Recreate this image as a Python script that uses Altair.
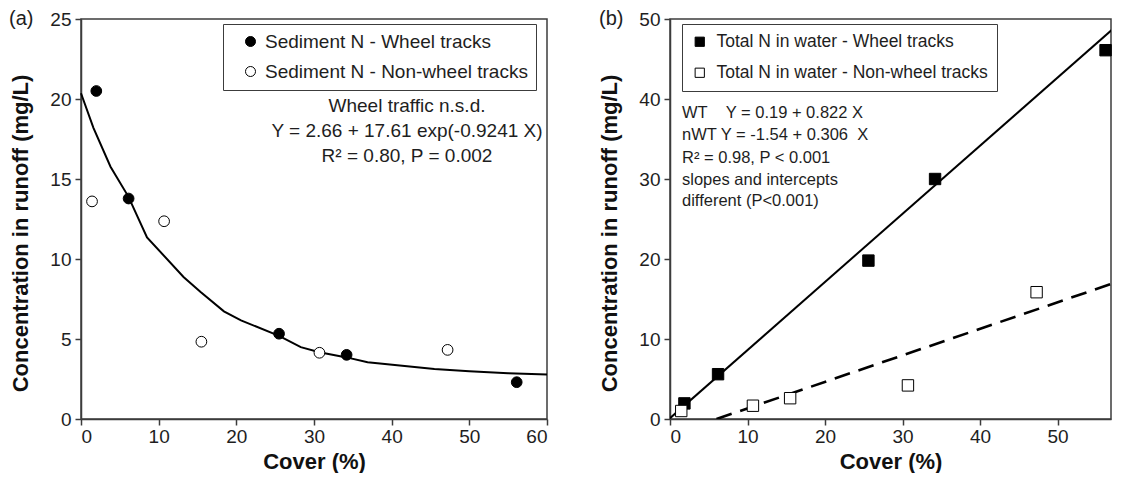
import altair as alt
import pandas as pd

FONT = "Liberation Sans"
INK = "#1e1e1e"
FRAME = "#3c3c3c"

# ---------------- Panel (a): sediment N ----------------
a_series = ["Sediment N - Wheel tracks", "Sediment N - Non-wheel tracks"]
a_wt_x = [1.97, 6.13, 25.5, 34.2, 56.1]
a_wt_y = [20.5, 13.78, 5.33, 4.01, 2.3]
a_nwt_x = [1.42, 10.7, 15.5, 30.7, 47.2]
a_nwt_y = [13.6, 12.36, 4.83, 4.14, 4.32]
a_fit_x = [0, 1.6, 3.8, 6.1, 8.5, 13.2, 15.4, 18.4, 20.6, 25.5, 28.3, 30.7, 34.2, 36.9, 45.5, 50, 55, 60]
a_fit_y = [20.36, 18.2, 15.77, 13.9, 11.35, 8.88, 7.94, 6.73, 6.16, 5.2, 4.49, 4.17, 3.85, 3.55, 3.13, 2.98, 2.86, 2.78]
a_notes = ["Wheel traffic n.s.d.", "Y = 2.66 + 17.61 exp(-0.9241 X)", "R\u00b2 = 0.80, P = 0.002"]

# ---------------- Panel (b): total N in water ----------------
b_series = ["Total N in water - Wheel tracks", "Total N in water - Non-wheel tracks"]
b_wt_x = [1.86, 6.2, 25.6, 34.2, 56.2]
b_wt_y = [1.95, 5.6, 19.8, 30.0, 46.1]
b_nwt_x = [1.45, 10.7, 15.5, 30.7, 47.3]
b_nwt_y = [1.0, 1.66, 2.6, 4.2, 15.85]
b_wt_line_x = [0, 58.6]
b_wt_line_y = [0.1, 50]
b_nwt_line_x = [6.0, 60]
b_nwt_line_y = [0, 17.9]
b_notes = [
    "WT\u00a0\u00a0\u00a0 Y = 0.19 + 0.822 X",
    "nWT Y = -1.54 + 0.306\u00a0 X",
    "R\u00b2 = 0.98, P < 0.001",
    "slopes and intercepts",
    "\u00a0different (P<0.001)",
]

a_x_ticks = [0, 10, 20, 30, 40, 50, 60]
b_x_ticks = [0, 10, 20, 30, 40, 50]
# panel (b) is cropped at the right edge of the figure, as in the original
B_X_MAX = 56.9


def points(xs, ys, name):
    return pd.DataFrame({"x": xs, "y": ys, "series": name})


def x_enc(xmax, ticks):
    return alt.X("x:Q", scale=alt.Scale(domain=[0, xmax], nice=False),
                 axis=alt.Axis(title="Cover (%)", values=ticks, titlePadding=5))


def y_enc(top, step):
    return alt.Y("y:Q", scale=alt.Scale(domain=[0, top], nice=False),
                 axis=alt.Axis(title="Concentration in runoff (mg/L)",
                               values=list(range(0, top + 1, step)), titlePadding=17,
                               labelPadding=4, titleY=214))


def label_layer(text, x, y, size=20):
    return alt.Chart(pd.DataFrame({"t": [text]})).mark_text(
        align="left", baseline="middle", fontSize=size, font=FONT, color=INK
    ).encode(x=alt.value(x), y=alt.value(y), text="t:N")


# ----- panel a -----
a_pts = pd.concat([points(a_wt_x, a_wt_y, a_series[0]),
                   points(a_nwt_x, a_nwt_y, a_series[1])])
a_fit = pd.DataFrame({"x": a_fit_x, "y": a_fit_y})

ax = x_enc(60, a_x_ticks)
ay = y_enc(25, 5)

a_curve = alt.Chart(a_fit).mark_line(color="black", strokeWidth=2).encode(x=ax, y=ay)

a_points = alt.Chart(a_pts).mark_point(
    filled=True, shape="circle", size=115, stroke="black", strokeWidth=1, opacity=1
).encode(
    x=ax, y=ay,
    fill=alt.Fill("series:N", scale=alt.Scale(domain=a_series, range=["black", "white"]),
                  legend=alt.Legend(title=None, orient="none", legendX=142, legendY=5,
                                    direction="vertical", strokeColor=FRAME, fillColor="white",
                                    padding=8, labelFontSize=19, labelColor=INK, labelFont=FONT,
                                    labelLimit=600,
                                    symbolType="circle", symbolSize=100, symbolStrokeColor="black",
                                    symbolStrokeWidth=1, symbolOpacity=1, symbolOffset=10,
                                    labelOffset=5, rowPadding=10)),
)

a_text = [
    alt.Chart(pd.DataFrame({"t": [s]})).mark_text(
        align="center", baseline="middle", fontSize=19, font=FONT, color=INK
    ).encode(x=alt.value(326), y=alt.value(yy), text="t:N")
    for s, yy in zip(a_notes, [87, 112, 137])
]

panel_a = alt.layer(a_curve, a_points, *a_text, label_layer("(a)", -72, 0)).properties(
    width=466, height=400)

# ----- panel b -----
b_pts = pd.concat([points(b_wt_x, b_wt_y, b_series[0]),
                   points(b_nwt_x, b_nwt_y, b_series[1])])
b_l1 = pd.DataFrame({"x": b_wt_line_x, "y": b_wt_line_y})
b_l2 = pd.DataFrame({"x": b_nwt_line_x, "y": b_nwt_line_y})

bx = x_enc(B_X_MAX, b_x_ticks)
by = y_enc(50, 10)

b_line1 = alt.Chart(b_l1).mark_line(color="black", strokeWidth=2, clip=True).encode(x=bx, y=by)
b_line2 = alt.Chart(b_l2).mark_line(color="black", strokeWidth=2.6, strokeDash=[16, 9],
                                    clip=True).encode(x=bx, y=by)

b_points = alt.Chart(b_pts).mark_point(
    filled=True, shape="square", size=130, stroke="black", strokeWidth=1, opacity=1
).encode(
    x=bx, y=by,
    fill=alt.Fill("series:N", scale=alt.Scale(domain=b_series, range=["black", "white"]),
                  legend=alt.Legend(title=None, orient="none", legendX=12, legendY=5,
                                    direction="vertical", strokeColor=FRAME, fillColor="white",
                                    padding=9, labelFontSize=17.5, labelColor=INK, labelFont=FONT,
                                    labelLimit=600,
                                    symbolType="square", symbolSize=85, symbolStrokeColor="black",
                                    symbolStrokeWidth=1, symbolOpacity=1, symbolOffset=0,
                                    labelOffset=8, rowPadding=12)),
)

b_text = [
    alt.Chart(pd.DataFrame({"t": [s]})).mark_text(
        align="left", baseline="middle", fontSize=16.5, font=FONT, color=INK
    ).encode(x=alt.value(12), y=alt.value(yy), text="t:N")
    for s, yy in zip(b_notes, [94, 116, 139, 161, 182])
]

panel_b = alt.layer(b_line1, b_line2, b_points, *b_text, label_layer("(b)", -71, 0)).properties(
    width=441, height=400)

chart = alt.hconcat(panel_a, panel_b, spacing=46).resolve_scale(
    fill="independent", x="independent", y="independent"
).resolve_legend(fill="independent").properties(
    padding={"left": 0, "top": 0, "right": 0, "bottom": 0}
).configure(
    font=FONT
).configure_view(
    stroke=FRAME, strokeWidth=1.5
).configure_axis(
    grid=False, labelFont=FONT, titleFont=FONT, labelFontSize=19, labelColor=INK,
    titleFontSize=22, titleFontWeight="bold", titleColor="#111111",
    tickSize=6, tickColor=FRAME, tickWidth=1.5, domainColor=FRAME, domainWidth=1.5,
    labelPadding=2
)

chart.save("out.html", embed_options={"renderer": "svg", "actions": False})
